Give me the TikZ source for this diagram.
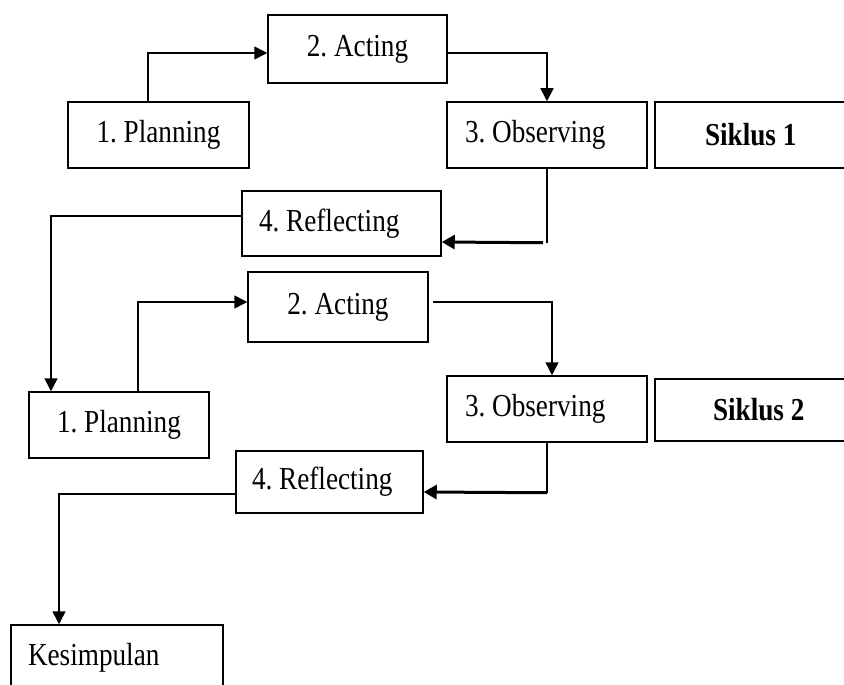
\documentclass[tikz,border=0pt]{standalone}
\usepackage{fontspec}
\usepackage{tikz}
\usetikzlibrary{arrows.meta}
\newfontfamily\stagefont{Liberation Serif}[FakeStretch=0.85]
\newcommand\lbox[2]{\makebox[#1][l]{#2}}

\begin{document}
\begin{tikzpicture}[x=1pt, y=-1pt,
  stage/.style={draw, line width=1.5pt, shape=rectangle, inner sep=0pt, font=\stagefont\fontsize{32}{35}\selectfont\frenchspacing},
  padded/.style={stage, inner xsep=#1},
  link/.style={line width=1.5pt, -{Triangle[length=13pt, width=13pt]}},
  heavy/.style={line width=3pt, -{Triangle[length=13pt, width=14pt]}}]
\useasboundingbox (0,0) rectangle (844,685);
\node[stage, minimum width=179pt, minimum height=68pt] (a1) at (357.5,49) {2. Acting};
\node[stage, minimum width=181pt, minimum height=66pt] (p1) at (158.5,135) {1. Planning};
\node[padded=18pt, minimum height=66pt] (o1) at (547,135) {\lbox{164pt}{3. Observing}};
\node[padded=50pt, minimum height=66pt] (s1) at (780,135) {\lbox{150pt}{\bfseries Siklus 1}};
\node[padded=17pt, minimum height=65pt] (r1) at (341.5,223.5) {\lbox{165pt}{4. Reflecting}};
\node[stage, minimum width=180pt, minimum height=70pt] (a2) at (338,307) {2. Acting};
\node[stage, minimum width=180pt, minimum height=66pt] (p2) at (119,425) {1. Planning};
\node[padded=18pt, minimum height=66pt] (o2) at (547,409) {\lbox{164pt}{3. Observing}};
\node[padded=58pt, minimum height=62pt] (s2) at (784,410) {\lbox{142pt}{\bfseries Siklus 2}};
\node[padded=16pt, minimum height=62pt] (r2) at (329.5,482) {\lbox{155pt}{4. Reflecting}};
\node[padded=17pt, minimum height=66pt] (k) at (117,658) {\lbox{178pt}{Kesimpulan}};
\begin{scope}
\draw[link] ([xshift=-10.5pt]p1.north) |- ([yshift=-4pt]a1.west);
\draw[link] ([yshift=-4pt]a1.east) -| (o1.north);
\draw[line width=1.5pt] (o1.south) -- ++(0,74) coordinate (t1);
\draw[heavy] ([xshift=-4pt]t1) -- ([yshift=-18.5pt]r1.east);
\draw[link] ([yshift=7.5pt]r1.west) -| ([xshift=-68pt]p2.north);
\draw[link] ([xshift=19pt]p2.north) |- ([yshift=5pt]a2.west);
\draw[link] ([xshift=4pt, yshift=5pt]a2.east) -| ([xshift=5pt]o2.north);
\draw[line width=1.5pt] (o2.south) -- ++(0,50) coordinate (t2);
\draw[heavy] (t2) -- ([yshift=-10pt]r2.east);
\draw[link] ([yshift=-12pt]r2.west) -| ([xshift=-58pt]k.north);
\end{scope}
\end{tikzpicture}
\end{document}
